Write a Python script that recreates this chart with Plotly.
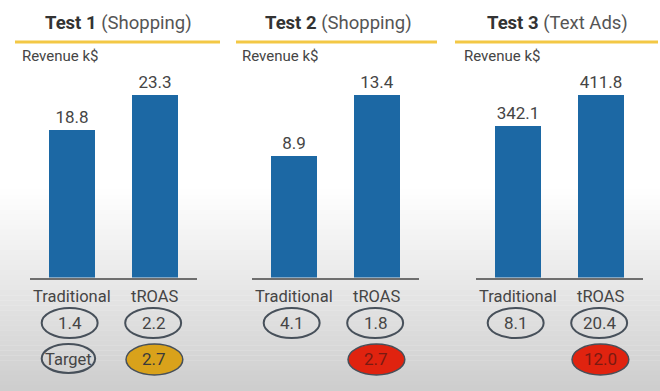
import plotly.graph_objects as go

# ---- data ----
test_names = ["Test 1", "Test 2", "Test 3"]
test_types = ["(Shopping)", "(Shopping)", "(Text Ads)"]
categories = ["Traditional", "tROAS"]
revenue_traditional = [18.8, 8.9, 342.1]
revenue_troas = [23.3, 13.4, 411.8]
roas_traditional = ["1.4", "4.1", "8.1"]
roas_troas = ["2.2", "1.8", "20.4"]
target_traditional = ["Target", None, None]
target_troas = ["2.7", "2.7", "12.0"]
target_fill = ["#d9a21b", "#e0230f", "#e0230f"]
target_text_color = ["#3a3a3a", "#7a1a12", "#7a1a12"]
axis_label = "Revenue k$"

W, H = 660, 391
FONT = "Roboto, Arial, sans-serif"
BAR = "#1c68a4"
TXT = "#454545"

def py(px):  # pixel y -> paper y
    return (H - px) / H

def pxx(px):
    return px / W

fig = go.Figure()

# background gradient strips
g_start, g_end = 190, 391
n = 40
for i in range(n):
    y0 = g_start + (g_end - g_start) * i / n
    y1 = g_start + (g_end - g_start) * (i + 1) / n
    f = (i + 0.5) / n
    c = int(round(255 - f * 50))
    fig.add_shape(type="rect", xref="paper", yref="paper",
                  x0=0, x1=1, y0=py(y1), y1=py(y0) + 0.001,
                  fillcolor=f"rgb({c},{c},{c})", line_width=0, layer="below")

domains_px = [(30, 197), (252, 419), (476, 643)]
title_cx = [118, 338, 557]
yellow_px = [(15, 220), (236, 437), (455, 658)]
revlabel_x = [20, 240, 462]
y_bottom_px, y_top_px = 277.5, 70
max_top_px = 95

def ann(**kw):
    kw.setdefault("xanchor", "center")
    kw.setdefault("yanchor", "middle")
    fig.add_annotation(showarrow=False, **kw)

layout_axes = {}
for i in range(3):
    xa = "x" if i == 0 else f"x{i+1}"
    ya = "y" if i == 0 else f"y{i+1}"
    vals = [revenue_traditional[i], revenue_troas[i]]
    fig.add_trace(go.Bar(
        x=categories, y=vals, xaxis=xa, yaxis=ya,
        marker=dict(color=BAR, line_width=0), width=0.55,
        text=[f"{v:.1f}" for v in vals], textposition="outside",
        textfont=dict(family=FONT, size=17, color=TXT),
        cliponaxis=False, showlegend=False, hoverinfo="skip"))
    d0, d1 = domains_px[i]
    frac = (y_bottom_px - max_top_px) / (y_bottom_px - y_top_px)
    ymax = max(vals) / frac
    suffix = "" if i == 0 else str(i + 1)
    layout_axes["xaxis" + suffix] = dict(
        domain=[pxx(d0), pxx(d1)], range=[-0.5, 1.5], showticklabels=False,
        showgrid=False, zeroline=False, showline=True, linecolor="#6e6e6e",
        linewidth=2, ticks="", anchor=ya, fixedrange=True)
    layout_axes["yaxis" + suffix] = dict(
        domain=[py(y_bottom_px), py(y_top_px)], range=[0, ymax], visible=False,
        anchor=xa, fixedrange=True)

    xref = xa
    # category labels
    for j, cat in enumerate(categories):
        ann(x=j, y=py(296), xref=xref, yref="paper", text=cat,
            font=dict(family=FONT, size=16.5, color=TXT))
    # ROAS ovals row 1
    for j, val in enumerate([roas_traditional[i], roas_troas[i]]):
        fig.add_shape(type="circle", xref=xref, yref="paper",
                      x0=j - 0.36, x1=j + 0.31, y0=py(338), y1=py(308),
                      line=dict(color="#47505a", width=2), fillcolor="rgba(0,0,0,0)")
        ann(x=j - 0.02, y=py(323), xref=xref, yref="paper", text=val,
            font=dict(family=FONT, size=17, color=TXT))
    # target row
    if target_traditional[i]:
        fig.add_shape(type="circle", xref=xref, yref="paper",
                      x0=-0.36, x1=0.28, y0=py(373), y1=py(344),
                      line=dict(color="#47505a", width=2), fillcolor="rgba(0,0,0,0)")
        ann(x=-0.04, y=py(359), xref=xref, yref="paper",
            text=target_traditional[i],
            font=dict(family=FONT, size=16.5, color=TXT))
    fig.add_shape(type="circle", xref=xref, yref="paper",
                  x0=1 - 0.35, x1=1 + 0.33, y0=py(375), y1=py(344),
                  line=dict(color="#47505a", width=1.5), fillcolor=target_fill[i])
    ann(x=0.99, y=py(359), xref=xref, yref="paper",
        text=target_troas[i],
        font=dict(family=FONT, size=17, color=target_text_color[i]))

    # title
    ann(x=pxx(title_cx[i]), y=py(23), xref="paper", yref="paper",
        text=f"<b>{test_names[i]}</b> <span style='color:#555'>{test_types[i]}</span>",
        font=dict(family=FONT, size=18.5, color="#333333"))
    # yellow rule
    a, b = yellow_px[i]
    fig.add_shape(type="line", xref="paper", yref="paper", x0=pxx(a), x1=pxx(b),
                  y0=py(42), y1=py(42), line=dict(color="#f3c845", width=3))
    # revenue label
    ann(x=pxx(revlabel_x[i]), y=py(56), xref="paper", yref="paper",
        text=axis_label, xanchor="left",
        font=dict(family=FONT, size=15, color=TXT))

fig.update_layout(width=W, height=H, margin=dict(l=0, r=0, t=0, b=0),
                  autosize=False,
                  paper_bgcolor="white", plot_bgcolor="rgba(0,0,0,0)",
                  bargap=0, **layout_axes)

fig.write_html("out.html", config={"displayModeBar": False},
               post_script="document.body.style.margin='0';document.body.style.overflow='hidden';")
